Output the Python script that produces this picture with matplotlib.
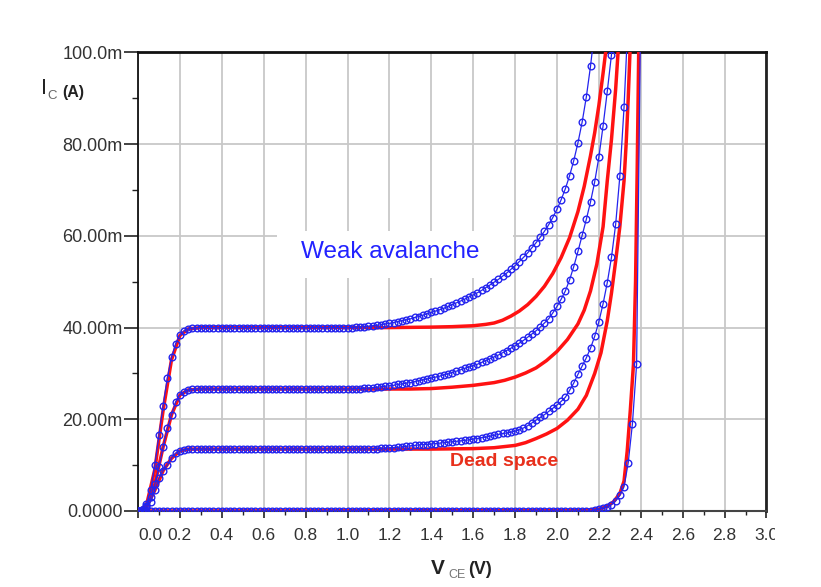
import numpy as np
import matplotlib
matplotlib.use('Agg')
import matplotlib.pyplot as plt
from matplotlib.ticker import MultipleLocator
from matplotlib.patches import Rectangle

plt.rcParams['font.family'] = ['Liberation Sans', 'DejaVu Sans']

# V_CE sweep of the simulation (V)
vce_sweep = [
    0.00, 0.02, 0.04, 0.06, 0.08, 0.10, 0.12, 0.14, 0.16, 0.18,
    0.20, 0.22, 0.24, 0.26, 0.28, 0.30, 0.32, 0.34, 0.36, 0.38,
    0.40, 0.42, 0.44, 0.46, 0.48, 0.50, 0.52, 0.54, 0.56, 0.58,
    0.60, 0.62, 0.64, 0.66, 0.68, 0.70, 0.72, 0.74, 0.76, 0.78,
    0.80, 0.82, 0.84, 0.86, 0.88, 0.90, 0.92, 0.94, 0.96, 0.98,
    1.00, 1.02, 1.04, 1.06, 1.08, 1.10, 1.12, 1.14, 1.16, 1.18,
    1.20, 1.22, 1.24, 1.26, 1.28, 1.30, 1.32, 1.34, 1.36, 1.38,
    1.40, 1.42, 1.44, 1.46, 1.48, 1.50, 1.52, 1.54, 1.56, 1.58,
    1.60, 1.62, 1.64, 1.66, 1.68, 1.70, 1.72, 1.74, 1.76, 1.78,
    1.80, 1.82, 1.84, 1.86, 1.88, 1.90, 1.92, 1.94, 1.96, 1.98,
    2.00, 2.02, 2.04, 2.06, 2.08, 2.10, 2.12, 2.14, 2.16, 2.18,
    2.20, 2.22, 2.24, 2.26, 2.28, 2.30, 2.32, 2.34, 2.36, 2.38,
    2.40]

# weak avalanche model, I_C in mA (blue, circles)
ic_weak_40 = [
    0.0, 0.3, 1.5, 4.5, 10.0, 16.5, 23.0, 29.0, 33.5, 36.5,
    38.3, 39.3, 39.7, 39.9, 40.0, 40.0, 40.0, 40.0, 40.0, 40.0,
    40.0, 40.0, 40.0, 40.0, 40.0, 40.0, 40.0, 40.0, 40.0, 40.0,
    40.0, 40.0, 40.0, 40.0, 40.0, 40.0, 40.0, 40.0, 40.0, 40.0,
    40.0, 40.0, 40.0, 40.0, 40.0, 40.0, 40.0, 40.0, 40.0, 40.0,
    40.0, 40.0, 40.1, 40.1, 40.2, 40.3, 40.4, 40.5, 40.6, 40.8,
    40.9, 41.1, 41.3, 41.5, 41.7, 41.9, 42.2, 42.4, 42.7, 43.0,
    43.3, 43.6, 43.9, 44.2, 44.6, 45.0, 45.4, 45.8, 46.2, 46.7,
    47.1, 47.6, 48.1, 48.7, 49.3, 49.9, 50.5, 51.2, 51.9, 52.7,
    53.5, 54.4, 55.3, 56.3, 57.4, 58.5, 59.7, 61.0, 62.4, 64.0,
    65.8, 67.9, 70.3, 73.1, 76.4, 80.3, 84.8, 90.3, 97.0, 105.0]

ic_weak_27 = [
    0.0, 0.2, 1.0, 3.0, 5.8, 9.5, 14.0, 18.0, 21.0, 23.8,
    25.3, 26.0, 26.4, 26.5, 26.6, 26.6, 26.6, 26.6, 26.6, 26.6,
    26.6, 26.6, 26.6, 26.6, 26.6, 26.6, 26.6, 26.6, 26.6, 26.6,
    26.6, 26.6, 26.6, 26.6, 26.6, 26.6, 26.6, 26.6, 26.6, 26.6,
    26.6, 26.6, 26.6, 26.6, 26.6, 26.6, 26.6, 26.6, 26.6, 26.6,
    26.6, 26.6, 26.7, 26.7, 26.8, 26.8, 26.9, 27.0, 27.1, 27.2,
    27.3, 27.4, 27.6, 27.7, 27.9, 28.0, 28.2, 28.4, 28.6, 28.8,
    29.0, 29.2, 29.4, 29.7, 29.9, 30.2, 30.5, 30.8, 31.1, 31.4,
    31.7, 32.0, 32.4, 32.8, 33.2, 33.6, 34.0, 34.5, 35.0, 35.5,
    36.0, 36.6, 37.2, 37.9, 38.6, 39.3, 40.1, 41.0, 41.9, 43.2,
    44.6, 46.2, 48.0, 50.4, 53.3, 56.6, 60.1, 63.6, 67.4, 71.8,
    77.2, 84.0, 91.5, 99.5, 108.0]

ic_weak_13 = [
    0.0, 0.2, 0.8, 2.0, 4.5, 7.2, 8.8, 10.0, 11.5, 12.6,
    13.1, 13.4, 13.5, 13.5, 13.5, 13.5, 13.5, 13.5, 13.5, 13.5,
    13.5, 13.5, 13.5, 13.5, 13.5, 13.5, 13.5, 13.5, 13.5, 13.5,
    13.5, 13.5, 13.5, 13.5, 13.5, 13.5, 13.5, 13.5, 13.5, 13.5,
    13.5, 13.5, 13.5, 13.5, 13.5, 13.5, 13.5, 13.5, 13.5, 13.5,
    13.5, 13.5, 13.5, 13.5, 13.5, 13.5, 13.6, 13.6, 13.7, 13.7,
    13.8, 13.8, 13.9, 14.0, 14.1, 14.2, 14.3, 14.4, 14.5, 14.5,
    14.6, 14.7, 14.8, 14.9, 15.0, 15.1, 15.2, 15.3, 15.4, 15.5,
    15.7, 15.8, 16.0, 16.1, 16.3, 16.5, 16.7, 16.9, 17.0, 17.2,
    17.4, 17.7, 18.1, 18.6, 19.2, 19.8, 20.4, 21.0, 21.7, 22.4,
    23.1, 23.9, 24.8, 26.3, 27.9, 29.8, 31.6, 33.4, 35.5, 38.1,
    41.3, 45.2, 49.8, 55.3, 62.5, 73.0, 88.0, 108.0]

ic_weak_0 = [
    0.0, 0.0, 0.0, 0.0, 0.0, 0.0, 0.0, 0.0, 0.0, 0.0,
    0.0, 0.0, 0.0, 0.0, 0.0, 0.0, 0.0, 0.0, 0.0, 0.0,
    0.0, 0.0, 0.0, 0.0, 0.0, 0.0, 0.0, 0.0, 0.0, 0.0,
    0.0, 0.0, 0.0, 0.0, 0.0, 0.0, 0.0, 0.0, 0.0, 0.0,
    0.0, 0.0, 0.0, 0.0, 0.0, 0.0, 0.0, 0.0, 0.0, 0.0,
    0.0, 0.0, 0.0, 0.0, 0.0, 0.0, 0.0, 0.0, 0.0, 0.0,
    0.0, 0.0, 0.0, 0.0, 0.0, 0.0, 0.0, 0.0, 0.0, 0.0,
    0.0, 0.0, 0.0, 0.0, 0.0, 0.0, 0.0, 0.0, 0.0, 0.0,
    0.0, 0.0, 0.0, 0.0, 0.0, 0.0, 0.0, 0.0, 0.0, 0.0,
    0.0, 0.0, 0.0, 0.0, 0.0, 0.0, 0.0, 0.0, 0.0, 0.0,
    0.0, 0.0, 0.0, 0.0, 0.0, 0.0, 0.0, 0.0, 0.0, 0.2,
    0.4, 0.6, 0.9, 1.4, 2.2, 3.4, 5.3, 10.5, 19.0, 32.0,
    112.0]

# dead space model (red lines), own V points
vce_dead_40 = [0.00, 0.04, 0.08, 0.12, 0.16, 0.20, 0.24, 0.30, 1.20, 1.40,
               1.50, 1.60, 1.66, 1.70, 1.74, 1.78, 1.82, 1.86, 1.90, 1.94,
               1.98, 2.02, 2.06, 2.10, 2.13, 2.16, 2.18, 2.20, 2.22, 2.24]
ic_dead_40 = [0.0, 1.2, 9.0, 22.0, 33.0, 38.3, 39.7, 40.0, 40.0, 40.1,
              40.2, 40.4, 40.7, 41.0, 41.6, 42.5, 43.6, 45.0, 46.8, 49.0,
              51.8, 55.3, 59.6, 65.3, 70.8, 77.5, 82.5, 88.5, 95.5, 103.0]

vce_dead_27 = [0.00, 0.04, 0.08, 0.12, 0.16, 0.20, 0.24, 0.30, 1.30, 1.40,
               1.50, 1.60, 1.70, 1.75, 1.80, 1.85, 1.90, 1.95, 2.00, 2.05,
               2.10, 2.13, 2.16, 2.19, 2.22, 2.24, 2.26, 2.28, 2.30]
ic_dead_27 = [0.0, 1.0, 5.8, 14.0, 21.0, 25.3, 26.4, 26.6, 26.6, 26.7,
              27.0, 27.4, 28.0, 28.5, 29.2, 30.1, 31.2, 32.8, 34.8, 37.4,
              40.8, 43.8, 48.0, 53.8, 62.0, 72.0, 81.0, 92.0, 106.0]

vce_dead_13 = [0.00, 0.04, 0.08, 0.12, 0.16, 0.20, 0.24, 1.40, 1.60, 1.70,
               1.80, 1.85, 1.90, 1.95, 2.00, 2.05, 2.10, 2.14, 2.18, 2.21,
               2.24, 2.26, 2.28, 2.30, 2.32, 2.33, 2.34, 2.35]
ic_dead_13 = [0.0, 0.8, 4.5, 8.8, 11.5, 13.1, 13.5, 13.5, 13.6, 13.8,
              14.3, 14.9, 15.8, 16.8, 18.0, 19.8, 22.2, 25.2, 30.0, 34.5,
              41.5, 47.5, 54.5, 62.0, 72.0, 80.0, 90.0, 102.0]

vce_dead_0 = [0.00, 2.10, 2.20, 2.24, 2.27, 2.30, 2.32, 2.335, 2.35, 2.365,
              2.375, 2.383, 2.39, 2.393]
ic_dead_0 = [0.0, 0.1, 0.4, 1.0, 2.0, 3.8, 6.5, 13.0, 22.0, 32.0,
             50.0, 75.0, 100.0, 110.0]

x_ticks = [0.0, 0.2, 0.4, 0.6, 0.8, 1.0, 1.2, 1.4, 1.6, 1.8,
           2.0, 2.2, 2.4, 2.6, 2.8, 3.0]
x_tick_labels = ['0.0', '0.2', '0.4', '0.6', '0.8', '1.0', '1.2', '1.4',
                 '1.6', '1.8', '2.0', '2.2', '2.4', '2.6', '2.8', '3.0']
y_ticks = [0, 20, 40, 60, 80, 100]
y_tick_labels = ['0.0000', '20.00m', '40.00m', '60.00m', '80.00m', '100.0m']

blue = '#2424ee'
red = '#ff1212'

fig = plt.figure(figsize=(8.21, 5.87), dpi=100)
ax = fig.add_axes([0.1681, 0.1295, 0.7655, 0.7811])

# red: dead space, blue: weak avalanche on top
dead = [(vce_dead_40, ic_dead_40), (vce_dead_27, ic_dead_27),
        (vce_dead_13, ic_dead_13), (vce_dead_0, ic_dead_0)]
for v, i in dead:
    ax.plot(v, i, color=red, lw=2.5, zorder=3, solid_capstyle='round')

weak = [ic_weak_40, ic_weak_27, ic_weak_13, ic_weak_0]
for i in weak:
    ax.plot(vce_sweep[:len(i)], i, color=blue, lw=0.9, marker='o', ms=4.8,
            mfc='none', mec=blue, mew=1.0, zorder=4)

ax.set_xlim(0, 3.0)
ax.set_ylim(0, 100)
ax.set_xticks(x_ticks)
xl = ax.set_xticklabels(x_tick_labels)
xl[0].set_horizontalalignment('left')
ax.set_yticks(y_ticks)
ax.set_yticklabels(y_tick_labels)
ax.xaxis.set_minor_locator(MultipleLocator(0.1))
ax.yaxis.set_minor_locator(MultipleLocator(10))

ax.grid(True, which='major', color='#c8c8c8', lw=1.3)
ax.set_axisbelow(True)

ax.tick_params(axis='x', which='major', direction='out', length=5, width=1.2,
               pad=7, labelsize=12.5, color='#222222', labelcolor='#333333')
ax.tick_params(axis='x', which='minor', direction='out', length=3, width=1.0,
               color='#222222')
ax.tick_params(axis='y', which='major', direction='out', length=10, width=1.2,
               pad=1, labelsize=13, color='#222222', labelcolor='#333333')
ax.tick_params(axis='y', which='minor', direction='out', length=4, width=1.0,
               color='#222222')

ax.spines['left'].set_color('#111111')
ax.spines['left'].set_linewidth(1.3)
ax.spines['top'].set_color('#111111')
ax.spines['top'].set_linewidth(2.0)
ax.spines['right'].set_color('#222222')
ax.spines['right'].set_linewidth(2.0)
ax.spines['bottom'].set_color('#444444')
ax.spines['bottom'].set_linewidth(1.5)

# white label box that hides the grid
ax.add_patch(Rectangle((0.221, 0.508), 0.376, 0.103, transform=ax.transAxes,
                       facecolor='white', edgecolor='none', zorder=1.5))
ax.text(0.401, 0.565, 'Weak avalanche', transform=ax.transAxes,
        ha='center', va='center', fontsize=17.5, color='#2222ff', zorder=5)
ax.text(0.4964, 0.1075, 'Dead space', transform=ax.transAxes,
        ha='left', va='center', fontsize=14, fontweight='bold',
        color='#e8301c', zorder=5)

# axis titles with subscripts, placed in figure pixels
def px(x, y):
    return x / 821.0, 1 - y / 587.0

fig.text(*px(41, 88), 'I', fontsize=15.5, ha='left', va='center', color='#222222')
fig.text(*px(47.5, 96), 'C', fontsize=9.5, ha='left', va='center', color='#666666')
fig.text(*px(62, 92), '(A)', fontsize=11.5, fontweight='bold', ha='left',
         va='center', color='#222222')
fig.text(*px(431, 569), 'V', fontsize=15, fontweight='bold', ha='left',
         va='center', color='#222222')
fig.text(*px(448, 575), 'CE', fontsize=9, ha='left', va='center', color='#777777')
fig.text(*px(468, 570), '(V)', fontsize=13, fontweight='bold', ha='left',
         va='center', color='#222222')

# right edge of the picture is cut through the last tick label
fig.patches.append(Rectangle((775 / 821.0, 0.0), 1.0, 0.2, transform=fig.transFigure,
                             facecolor='white', edgecolor='none', zorder=10))

fig.savefig('out.png', dpi=100)
